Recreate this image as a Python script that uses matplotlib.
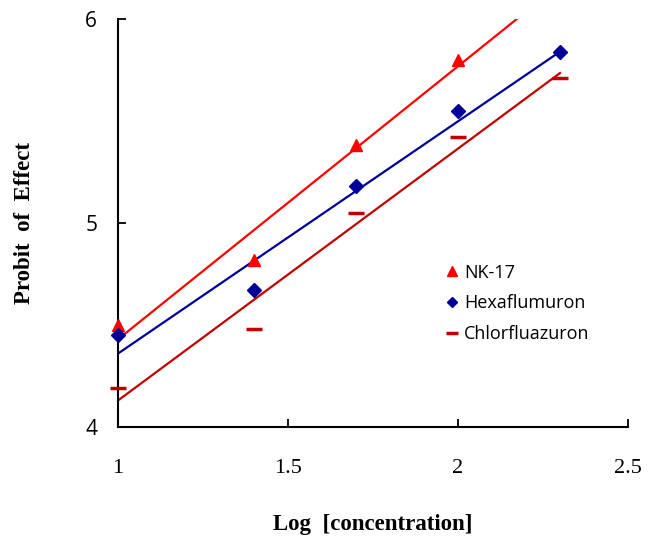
import numpy as np
import matplotlib
matplotlib.use("Agg")
import matplotlib.pyplot as plt

# puntos medidos (log concentracion, probit)
log_conc = [1.0, 1.4, 1.7, 2.0, 2.3]
nk17 = [4.50, 4.82, 5.38, 5.80]
hexaflumuron = [4.45, 4.67, 5.18, 5.55, 5.84]
chlorfluazuron = [4.19, 4.48, 5.05, 5.42, 5.71]

# extremos de las rectas de regresion
fit_x = [1.0, 2.3]
nk17_fit = [4.43, 6.17]
hexa_fit = [4.36, 5.84]
chlor_fit = [4.13, 5.735]

x_ticks = [1, 1.5, 2, 2.5]
x_tick_labels = ["1", "1.5", "2", "2.5"]
y_ticks = [4, 5, 6]

RED = "#FF0000"
NAVY = "#000099"
DARKRED = "#C00000"

fig = plt.figure(figsize=(6.55, 5.39), dpi=100)
ax = fig.add_axes([118 / 655, 1 - 427 / 539, 510 / 655, 408 / 539])

ax.plot(fit_x, nk17_fit, color=RED, lw=1.6, zorder=2)
ax.plot(fit_x, hexa_fit, color=NAVY, lw=1.6, zorder=2)
ax.plot(fit_x, chlor_fit, color=DARKRED, lw=1.6, zorder=2)

ax.plot(log_conc[:len(nk17)], nk17, ls="none", marker="^", ms=9,
        color=RED, label="NK-17", zorder=3, clip_on=False)
ax.plot(log_conc, hexaflumuron, ls="none", marker="D", ms=7,
        color=NAVY, label="Hexaflumuron", zorder=3, clip_on=False)
ax.plot(log_conc, chlorfluazuron, ls="none", marker="_", ms=11, mew=2.5,
        color=DARKRED, label="Chlorfluazuron", zorder=3, clip_on=False)

ax.set_xlim(1, 2.5)
ax.set_ylim(4, 6)
ax.spines["top"].set_visible(False)
ax.spines["right"].set_visible(False)
for s in ["left", "bottom"]:
    ax.spines[s].set_linewidth(1.5)

ax.set_xticks(x_ticks)
ax.set_xticklabels(x_tick_labels, fontfamily="Liberation Serif", fontsize=16)
ax.set_yticks(y_ticks)
ax.set_yticklabels([str(v) for v in y_ticks], fontfamily="Open Sans", fontsize=15)
ax.tick_params(axis="x", direction="in", length=6, width=1.3, pad=23)
ax.tick_params(axis="y", direction="in", length=6, width=1.3, pad=15)

ax.set_xlabel("Log  [concentration]", fontfamily="Liberation Serif",
              fontweight="bold", fontsize=16.5, labelpad=26)
ax.set_ylabel("Probit  of  Effect", fontfamily="Liberation Serif",
              fontweight="bold", fontsize=16.5, labelpad=36)

leg = ax.legend(loc="upper left", bbox_to_anchor=(0.61, 0.44), frameon=False,
                handlelength=0.7, handletextpad=0.35, labelspacing=0.7,
                markerscale=0.8, prop={"family": "Open Sans", "size": 13})

fig.savefig("out.png", dpi=100)
